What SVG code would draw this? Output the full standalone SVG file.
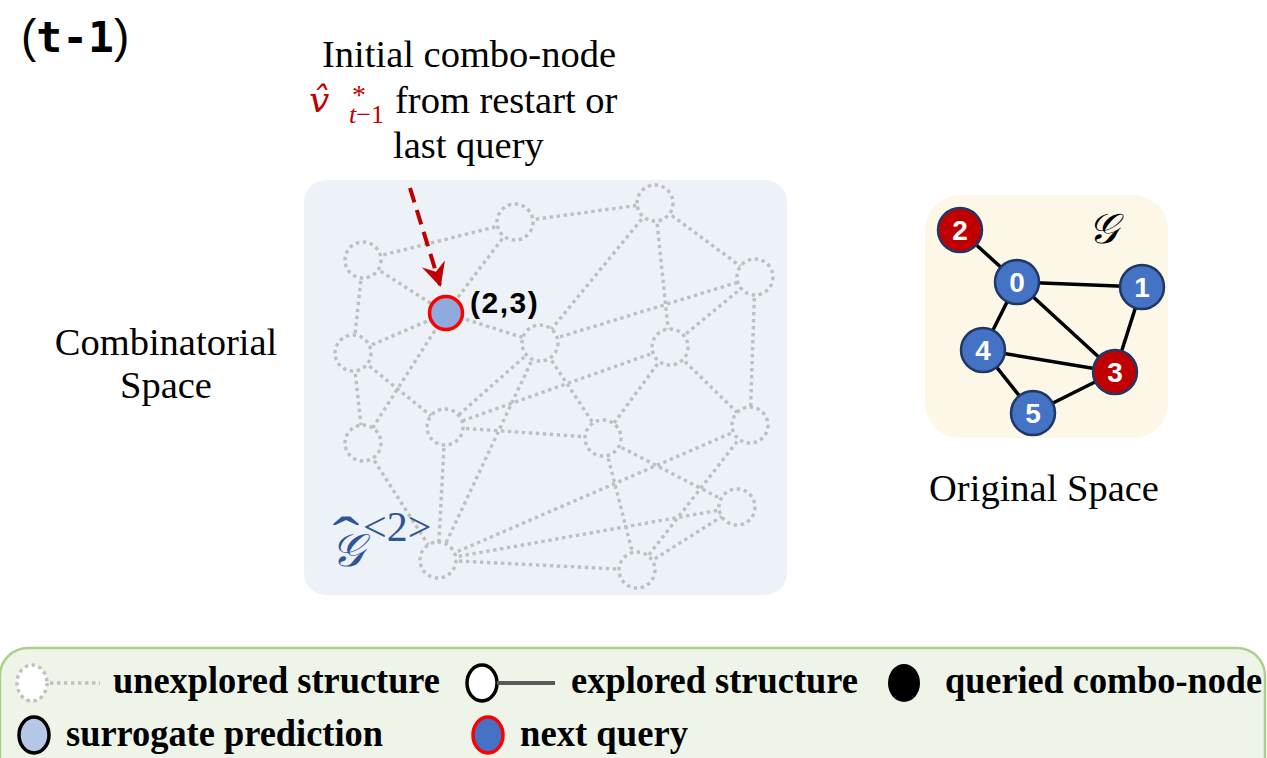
<svg xmlns="http://www.w3.org/2000/svg" width="1267" height="758" viewBox="0 0 1267 758">
<defs>
<style>
.dot{fill:none;stroke:#bfbfbf;stroke-width:3.4;stroke-dasharray:3.4 3.6}
.dn{fill:#edf1f8;stroke:#bfbfbf;stroke-width:3.4;stroke-dasharray:3.4 3.6}
.serif{font-family:"Liberation Serif","Times New Roman",serif;fill:#000}
.leg{font-family:"Liberation Serif","Times New Roman",serif;font-weight:bold;font-size:37px;fill:#000}
.og{stroke:#000;stroke-width:3.5}
.bn{fill:#4472c4;stroke:#203864;stroke-width:2.5}
.rn{fill:#c00000;stroke:#203864;stroke-width:2.5}
.nl{font-family:"Liberation Sans",Arial,sans-serif;font-weight:bold;font-size:28px;fill:#fff;text-anchor:middle}
</style>
<marker id="ah" viewBox="0 0 12 12" refX="11" refY="6" markerWidth="6" markerHeight="6" orient="auto" markerUnits="strokeWidth">
<path d="M0,0 L12,6 L0,12 L4,6 z" fill="#c00000"/>
</marker>
</defs>
<rect width="1267" height="758" fill="#fff"/>

<g id="title">
<text x="21" y="52" font-family="Liberation Sans,Arial,sans-serif" font-size="46">(<tspan font-family="DejaVu Sans Mono,monospace" font-weight="bold" font-size="43">t-1</tspan>)</text>
</g>

<g id="caption-initial" class="serif">
<text x="322" y="67" font-size="38.5">Initial combo-node</text>
<text x="395" y="113" font-size="38.5">from restart or</text>
<text x="393" y="158" font-size="38.5">last query</text>
<text x="309" y="112" font-family="DejaVu Serif,serif" font-size="36" font-style="italic" fill="#c00000">v̂</text>
<text x="352" y="104" font-size="28" fill="#c00000">*</text>
<text x="349" y="123" font-size="26" fill="#c00000"><tspan font-style="italic">t</tspan>−1</text>
</g>

<g id="label-combinatorial" class="serif">
<text x="166" y="355" font-size="38.5" text-anchor="middle">Combinatorial</text>
<text x="166" y="398" font-size="38.5" text-anchor="middle">Space</text>
</g>

<g id="panel-combinatorial">
<rect x="304" y="180" width="483" height="415" rx="22" fill="#edf1f8"/>
</g>

<g id="connectors-combinatorial">
<line class="dot" x1="363" y1="260" x2="515" y2="222"/>
<line class="dot" x1="515" y1="222" x2="655" y2="203"/>
<line class="dot" x1="363" y1="260" x2="446" y2="313"/>
<line class="dot" x1="363" y1="260" x2="353" y2="353"/>
<line class="dot" x1="515" y1="222" x2="446" y2="313"/>
<line class="dot" x1="446" y1="313" x2="353" y2="353"/>
<line class="dot" x1="446" y1="313" x2="540" y2="343"/>
<line class="dot" x1="446" y1="313" x2="363" y2="443"/>
<line class="dot" x1="353" y1="353" x2="363" y2="443"/>
<line class="dot" x1="353" y1="353" x2="445" y2="427"/>
<line class="dot" x1="655" y1="203" x2="755" y2="277"/>
<line class="dot" x1="655" y1="203" x2="540" y2="343"/>
<line class="dot" x1="655" y1="203" x2="670" y2="347"/>
<line class="dot" x1="540" y1="343" x2="755" y2="277"/>
<line class="dot" x1="670" y1="347" x2="755" y2="277"/>
<line class="dot" x1="755" y1="277" x2="750" y2="425"/>
<line class="dot" x1="670" y1="347" x2="445" y2="427"/>
<line class="dot" x1="670" y1="347" x2="603" y2="438"/>
<line class="dot" x1="670" y1="347" x2="750" y2="425"/>
<line class="dot" x1="540" y1="343" x2="603" y2="438"/>
<line class="dot" x1="540" y1="343" x2="445" y2="427"/>
<line class="dot" x1="540" y1="343" x2="438" y2="560"/>
<line class="dot" x1="445" y1="427" x2="603" y2="438"/>
<line class="dot" x1="445" y1="427" x2="438" y2="560"/>
<line class="dot" x1="363" y1="443" x2="438" y2="560"/>
<line class="dot" x1="750" y1="425" x2="438" y2="560"/>
<line class="dot" x1="750" y1="425" x2="637" y2="570"/>
<line class="dot" x1="603" y1="438" x2="637" y2="570"/>
<line class="dot" x1="603" y1="438" x2="737" y2="507"/>
<line class="dot" x1="438" y1="560" x2="737" y2="507"/>
<line class="dot" x1="438" y1="560" x2="637" y2="570"/>
<line class="dot" x1="637" y1="570" x2="737" y2="507"/>
</g>

<g id="nodes-combinatorial">
<circle id="cA" class="dn" cx="363" cy="260" r="18"/>
<circle id="cB" class="dn" cx="515" cy="222" r="18"/>
<circle id="cC" class="dn" cx="655" cy="203" r="18"/>
<circle id="cD" class="dn" cx="755" cy="277" r="18"/>
<circle id="cE" class="dn" cx="353" cy="353" r="18"/>
<circle id="cF" class="dn" cx="540" cy="343" r="18"/>
<circle id="cG" class="dn" cx="670" cy="347" r="18"/>
<circle id="cH" class="dn" cx="363" cy="443" r="18"/>
<circle id="cI" class="dn" cx="445" cy="427" r="18"/>
<circle id="cJ" class="dn" cx="603" cy="438" r="18"/>
<circle id="cK" class="dn" cx="750" cy="425" r="18"/>
<circle id="cL" class="dn" cx="737" cy="507" r="18"/>
<circle id="cM" class="dn" cx="438" cy="560" r="18"/>
<circle id="cN" class="dn" cx="637" cy="570" r="18"/>
</g>

<g id="node-23">
<circle cx="446" cy="313" r="16.5" fill="#8faadc" stroke="#ff0000" stroke-width="3.5"/>
<text x="470" y="313" font-family="Liberation Sans,Arial,sans-serif" font-weight="bold" font-size="30" letter-spacing="1.5">(2,3)</text>
</g>

<g id="arrow-initial">
<line x1="410" y1="188" x2="440" y2="285" stroke="#c00000" stroke-width="4" stroke-dasharray="15 8" marker-end="url(#ah)"/>
</g>

<g id="label-ghat2">
<text transform="translate(346,556) scale(1.4,1)" font-family="Liberation Serif,serif" font-size="58" text-anchor="middle" fill="#2f5597">ˆ</text>
<text x="331" y="566" font-family="DejaVu Serif,DejaVu Sans,serif" font-style="italic" font-size="46" fill="#2f5597">𝒢</text>
<text x="363" y="541" font-family="Liberation Serif,serif" font-size="42" fill="#2f5597">&lt;2&gt;</text>
</g>

<g id="panel-original">
<rect x="925" y="195" width="243" height="243" rx="35" fill="#fdf7e8"/>
<text x="1088" y="243" font-family="DejaVu Serif,DejaVu Sans,serif" font-style="italic" font-size="42" fill="#000">𝒢</text>
</g>

<g id="connectors-original">
<line class="og" x1="960" y1="230" x2="1017" y2="282"/>
<line class="og" x1="1017" y1="282" x2="1142" y2="287"/>
<line class="og" x1="1017" y1="282" x2="983" y2="350"/>
<line class="og" x1="1017" y1="282" x2="1115" y2="372"/>
<line class="og" x1="1142" y1="287" x2="1115" y2="372"/>
<line class="og" x1="983" y1="350" x2="1115" y2="372"/>
<line class="og" x1="983" y1="350" x2="1033" y2="413"/>
<line class="og" x1="1033" y1="413" x2="1115" y2="372"/>
</g>

<g id="o2"><circle class="rn" cx="960" cy="230" r="22"/><text class="nl" x="960" y="240">2</text></g>
<g id="o0"><circle class="bn" cx="1017" cy="282" r="22"/><text class="nl" x="1017" y="292">0</text></g>
<g id="o1"><circle class="bn" cx="1142" cy="287" r="22"/><text class="nl" x="1142" y="297">1</text></g>
<g id="o4"><circle class="bn" cx="983" cy="350" r="22"/><text class="nl" x="983" y="360">4</text></g>
<g id="o3"><circle class="rn" cx="1115" cy="372" r="22"/><text class="nl" x="1115" y="382">3</text></g>
<g id="o5"><circle class="bn" cx="1033" cy="413" r="22"/><text class="nl" x="1033" y="423">5</text></g>

<g id="label-original" class="serif">
<text x="1044" y="501" font-size="38.5" text-anchor="middle">Original Space</text>
</g>

<g id="legend">
<rect x="0" y="648" width="1265" height="140" rx="28" fill="#eef5e8" stroke="#a9d18e" stroke-width="2.5"/>
<ellipse cx="32" cy="683" rx="15" ry="18" fill="#fff" stroke="#bfbfbf" stroke-width="3.4" stroke-dasharray="3.4 3.6"/>
<line class="dot" x1="50" y1="683" x2="100" y2="683"/>
<text class="leg" x="113" y="693" textLength="327" lengthAdjust="spacingAndGlyphs">unexplored structure</text>
<ellipse cx="482" cy="683" rx="15" ry="18" fill="#fff" stroke="#000" stroke-width="3.5"/>
<line x1="497" y1="683" x2="555" y2="683" stroke="#595959" stroke-width="4"/>
<text class="leg" x="571" y="693" textLength="287" lengthAdjust="spacingAndGlyphs">explored structure</text>
<ellipse cx="904" cy="683" rx="16" ry="19" fill="#000"/>
<text class="leg" x="945" y="693" textLength="317" lengthAdjust="spacingAndGlyphs">queried combo-node</text>
<ellipse cx="34" cy="735" rx="15" ry="18" fill="#b4c7e7" stroke="#000" stroke-width="3.5"/>
<text class="leg" x="66" y="746" textLength="317" lengthAdjust="spacingAndGlyphs">surrogate prediction</text>
<ellipse cx="488" cy="735" rx="15" ry="18" fill="#4472c4" stroke="#ff0000" stroke-width="3.5"/>
<text class="leg" x="520" y="746" textLength="168" lengthAdjust="spacingAndGlyphs">next query</text>
</g>
</svg>
